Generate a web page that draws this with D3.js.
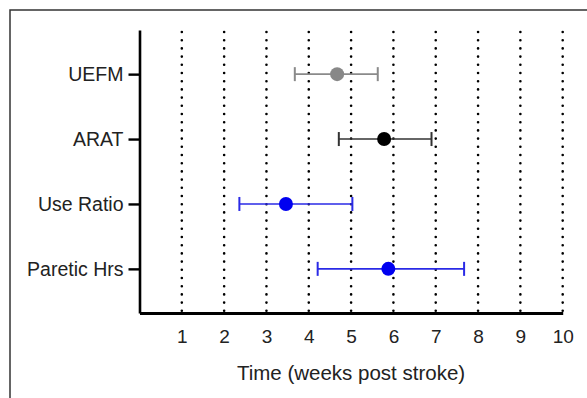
<!DOCTYPE html>
<html>
<head>
<meta charset="utf-8">
<script src="https://cdn.jsdelivr.net/npm/d3@7"></script>
<style>
	body { margin: 0; background: #fff; }
	text { font-family: Arial, 'Liberation Sans', sans-serif; fill: #222; }
</style>
</head>
<body>
<div id="chart"></div>
<script>
// measures, in display order top -> bottom
const measures = ['UEFM', 'ARAT', 'Use Ratio', 'Paretic Hrs'];
// time of plateau (weeks post stroke) with lower / upper interval
const means = [4.67, 5.78, 3.46, 5.88];
const lows = [3.67, 4.71, 2.36, 4.21];
const highs = [5.63, 6.90, 5.03, 7.67];
const colors = ['#888888', '#000000', '#0000f0', '#0000f0'];
const barColors = ['#8a8a8a', '#333333', '#2a2ae6', '#2a2ae6'];
const xTicks = [1, 2, 3, 4, 5, 6, 7, 8, 9, 10];

const width = 587;
const height = 398;

const svg = d3.select('#chart').append('svg')
	.attr('width', width)
	.attr('height', height);

// outer frame (runs off the right and bottom edges)
svg.append('rect')
	.attr('x', 10)
	.attr('y', 10)
	.attr('width', 620)
	.attr('height', 420)
	.attr('fill', 'none')
	.attr('stroke', '#333')
	.attr('stroke-width', 1.5);

const xScale = d3.scaleLinear()
	.domain([0, 10])
	.range([139.5, 562.7]);

const yScale = d3.scalePoint()
	.domain(measures)
	.range([30, 313])
	.padding(0.68);

// dotted verticals
svg.append('g')
	.selectAll('line')
	.data(xTicks)
	.enter().append('line')
		.attr('x1', (d) => xScale(d))
		.attr('x2', (d) => xScale(d))
		.attr('y1', 32)
		.attr('y2', 312)
		.attr('stroke', '#000')
		.attr('stroke-width', 2.6)
		.attr('stroke-linecap', 'round')
		.attr('stroke-dasharray', '0,8.2');

// x axis
const xAxis = svg.append('g')
	.attr('transform', `translate(0,${313})`)
	.call(d3.axisBottom(xScale).tickValues(xTicks).tickSize(0).tickPadding(17));
xAxis.select('.domain')
	.attr('stroke', '#000')
	.attr('stroke-width', 3);
xAxis.selectAll('text')
	.style('font-size', '19px')
	.attr('fill', '#222');

svg.append('text')
	.attr('x', 351)
	.attr('y', 380)
	.attr('text-anchor', 'middle')
	.style('font-size', '20.5px')
	.text('Time (weeks post stroke)');

// y axis
const yAxis = svg.append('g')
	.attr('transform', `translate(${139.5},0)`)
	.call(d3.axisLeft(yScale).tickSize(11).tickPadding(5).tickSizeOuter(0));
yAxis.select('.domain')
	.attr('stroke', '#000')
	.attr('stroke-width', 2.6);
yAxis.selectAll('.tick line')
	.attr('stroke', '#000')
	.attr('stroke-width', 2.4);
yAxis.selectAll('text')
	.style('font-size', '19.5px')
	.attr('fill', '#222');

// error bars
const rows = d3.range(measures.length);
const eb = svg.append('g')
	.selectAll('g')
	.data(rows)
	.enter().append('g')
		.attr('stroke', (i) => barColors[i])
		.attr('stroke-width', 1.6);

eb.append('line')
	.attr('x1', (i) => xScale(lows[i]))
	.attr('x2', (i) => xScale(highs[i]))
	.attr('y1', (i) => yScale(measures[i]))
	.attr('y2', (i) => yScale(measures[i]));

eb.append('line')
	.attr('x1', (i) => xScale(lows[i]))
	.attr('x2', (i) => xScale(lows[i]))
	.attr('y1', (i) => yScale(measures[i]) - 7)
	.attr('y2', (i) => yScale(measures[i]) + 7)
	.attr('stroke-width', 2);

eb.append('line')
	.attr('x1', (i) => xScale(highs[i]))
	.attr('x2', (i) => xScale(highs[i]))
	.attr('y1', (i) => yScale(measures[i]) - 7)
	.attr('y2', (i) => yScale(measures[i]) + 7)
	.attr('stroke-width', 2);

svg.append('g')
	.selectAll('circle')
	.data(rows)
	.enter().append('circle')
		.attr('cx', (i) => xScale(means[i]))
		.attr('cy', (i) => yScale(measures[i]))
		.attr('r', 7)
		.attr('fill', (i) => colors[i]);
</script>
</body>
</html>
